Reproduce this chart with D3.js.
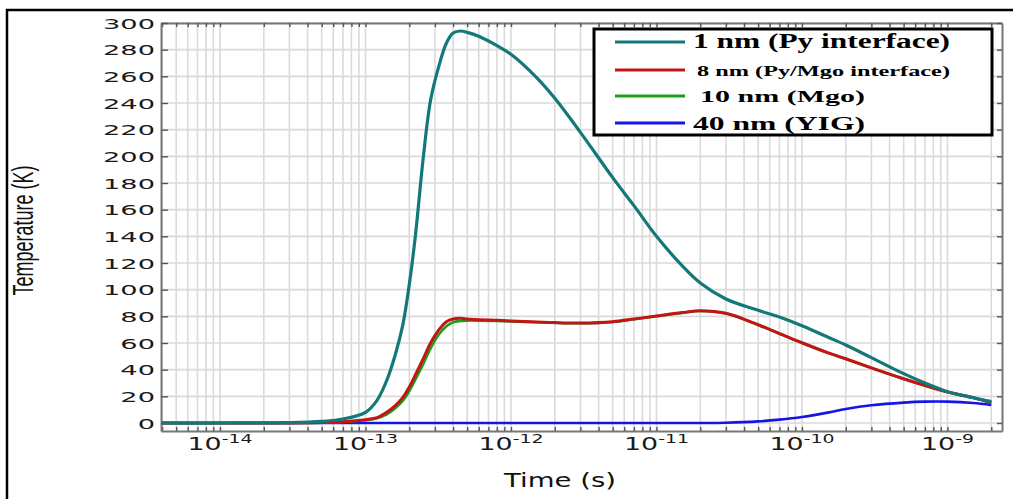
<!DOCTYPE html>
<html>
<head>
<meta charset="utf-8">
<script src="https://cdn.jsdelivr.net/npm/d3@7"></script>
<style>
  body { margin: 0; background: #fff; }
</style>
</head>
<body>
<svg id="chart"></svg>
<script>
// sample times (s), shared by every series
const times = [4e-15, 1e-14, 3e-14, 5e-14, 7e-14, 1e-13, 1.2e-13, 1.4e-13, 1.6e-13, 1.8e-13,
    2e-13, 2.2e-13, 2.5e-13, 2.8e-13, 3.2e-13, 3.6e-13, 4e-13, 4.5e-13, 5e-13, 6e-13,
    8e-13, 1e-12, 1.5e-12, 2e-12, 3e-12, 5e-12, 7e-12, 1e-11, 1.5e-11, 2e-11,
    3e-11, 5e-11, 7e-11, 1e-10, 1.5e-10, 2e-10, 3e-10, 5e-10, 7e-10, 1e-9,
    1.5e-9, 2e-9];

// temperature (K)
const py1nm = [0, 0, 0.3, 1.2, 3, 8, 17, 32, 51, 73,
    104, 140, 200, 242, 268, 285, 292.5, 294, 293, 290,
    283, 276.5, 259, 243.5, 218, 184, 163, 140, 118, 105,
    93, 84.5, 79.5, 73, 64.5, 58.5, 49, 37, 30, 23.5,
    19, 16];
const pyMgo8nm = [0, 0, 0, 0.3, 1, 2.5, 4, 8, 13, 19,
    27, 36, 48.5, 60, 70, 76, 78, 78.5, 78, 77.5,
    77, 76.5, 75.8, 75.3, 75, 76, 78, 80.3, 82.8, 84.2,
    82.3, 73.7, 67.1, 60.2, 52.8, 48.2, 41.4, 33.2, 28.2, 23.3,
    19, 15.2];
const mgo10nm = [0, 0, 0, 0.2, 0.8, 2, 3.5, 6.5, 11, 16.5,
    24, 32.5, 44.5, 56, 66.5, 72.5, 75.5, 76.5, 76.8, 76.8,
    76.6, 76.2, 75.6, 75.1, 74.8, 75.8, 77.8, 80.1, 82.6, 84,
    82.1, 73.5, 66.9, 60, 52.6, 48, 41.2, 33, 28, 23.2,
    18.9, 15.1];
const yig40nm = [0, 0, 0, 0, 0, 0, 0, 0, 0, 0,
    0, 0, 0, 0, 0, 0, 0, 0, 0, 0,
    0, 0, 0, 0, 0, 0, 0, 0, 0, 0,
    0.2, 1.2, 2.5, 4.5, 7.8, 10.5, 13.3, 15.3, 16, 16,
    15, 13.5];

const seriesNames = ['1 nm (Py interface)', '8 nm (Py/Mgo interface)', '10 nm (Mgo)', '40 nm (YIG)'];
const seriesColors = ['#137878', '#c41414', '#1a9e1a', '#1515e6'];
const seriesValues = [py1nm, pyMgo8nm, mgo10nm, yig40nm];

const yTicks = [0, 20, 40, 60, 80, 100, 120, 140, 160, 180, 200, 220, 240, 260, 280, 300];
const xExponents = [-14, -13, -12, -11, -10, -9];

const svgWidth = 1013;
const svgHeight = 499;
const plot = { left: 161, right: 1002, top: 23, bottom: 431 };

const svg = d3.select('#chart')
    .attr('width', svgWidth)
    .attr('height', svgHeight);

// outer black frame (runs off the right and bottom of the picture)
svg.append('rect')
    .attr('x', 7).attr('y', 10)
    .attr('width', 1100).attr('height', 700)
    .attr('fill', 'none')
    .attr('stroke', '#000')
    .attr('stroke-width', 2.5);

const x = d3.scaleLog()
    .domain([3.93e-15, 2.37e-9])
    .range([plot.left, plot.right]);

const y = d3.scaleLinear()
    .domain([-6, 300])
    .range([plot.bottom, plot.top]);

// every 1..9 x 10^e inside the domain
const xTicks = [];
for (let e = -15; e <= -9; e++) {
    for (let k = 1; k < 10; k++) {
        const v = +(k + 'e' + e);
        if (v >= x.domain()[0] && v <= x.domain()[1]) xTicks.push(v);
    }
}

// grid
const grid = svg.append('g').attr('stroke', '#dadada').attr('stroke-width', 1.6);
grid.selectAll('.vgrid')
    .data(xTicks)
    .join('line')
    .attr('class', 'vgrid')
    .attr('x1', d => x(d)).attr('x2', d => x(d))
    .attr('y1', plot.top).attr('y2', plot.bottom);
grid.selectAll('.hgrid')
    .data(yTicks)
    .join('line')
    .attr('class', 'hgrid')
    .attr('x1', plot.left).attr('x2', plot.right)
    .attr('y1', d => y(d)).attr('y2', d => y(d));

// axes with inward ticks on all four sides
function styleAxis(g) {
    g.select('.domain').attr('stroke', '#777').attr('stroke-width', 2);
    g.selectAll('.tick line').attr('stroke', '#555').attr('stroke-width', 1.4);
}

svg.append('g')
    .attr('transform', `translate(0, ${plot.bottom})`)
    .call(d3.axisBottom(x).tickValues(xTicks).tickSize(-4).tickSizeOuter(0).tickFormat(''))
    .call(styleAxis);

svg.append('g')
    .attr('transform', `translate(0, ${plot.top})`)
    .call(d3.axisTop(x).tickValues(xTicks).tickSize(-4).tickSizeOuter(0).tickFormat(''))
    .call(styleAxis);

svg.append('g')
    .attr('transform', `translate(${plot.right}, 0)`)
    .call(d3.axisRight(y).tickValues(yTicks).tickSize(-5).tickSizeOuter(0).tickFormat(''))
    .call(styleAxis);

const yAxis = svg.append('g')
    .attr('transform', `translate(${plot.left}, 0)`)
    .call(d3.axisLeft(y).tickValues(yTicks).tickSize(-7).tickSizeOuter(0).tickFormat(d3.format('d')))
    .call(styleAxis);

yAxis.selectAll('.tick text')
    .attr('x', null)
    .attr('dy', null)
    .attr('transform', 'translate(-6, 5) scale(1.88, 1)')
    .attr('text-anchor', 'end')
    .style('font-family', 'DejaVu Sans')
    .style('font-size', '14.5px')
    .attr('fill', '#1a1a1a');

// decade labels 10^e
const xLabels = svg.append('g')
    .selectAll('text')
    .data(xExponents)
    .join('text')
    .attr('transform', d => `translate(${x(Math.pow(10, d))}, 450) scale(1.6, 1)`)
    .attr('text-anchor', 'middle')
    .style('font-family', 'DejaVu Sans')
    .attr('fill', '#1a1a1a');
xLabels.append('tspan')
    .style('font-size', '16.8px')
    .text('10');
xLabels.append('tspan')
    .attr('dy', -7)
    .style('font-size', '11.8px')
    .text(d => '-' + Math.abs(d));

// axis titles
svg.append('text')
    .attr('transform', 'translate(560, 487) scale(1.45, 1)')
    .attr('text-anchor', 'middle')
    .style('font-family', 'DejaVu Sans')
    .style('font-size', '19px')
    .attr('fill', '#111')
    .text('Time (s)');

svg.append('text')
    .attr('transform', 'translate(33, 230.5) scale(1.6, 1) rotate(-90)')
    .attr('text-anchor', 'middle')
    .style('font-family', 'Liberation Sans')
    .style('font-size', '18px')
    .attr('fill', '#111')
    .text('Temperature (K)');

// curves
svg.append('clipPath').attr('id', 'plotClip')
    .append('rect')
    .attr('x', plot.left).attr('y', plot.top)
    .attr('width', plot.right - plot.left).attr('height', plot.bottom - plot.top);

const line = d3.line()
    .x((d, i) => x(times[i]))
    .y(d => y(d))
    .curve(d3.curveCatmullRom.alpha(0.5));

const drawOrder = [3, 2, 1, 0];
const widths = [3.2, 3, 2.6, 2.6];
svg.append('g')
    .attr('clip-path', 'url(#plotClip)')
    .selectAll('path')
    .data(drawOrder)
    .join('path')
    .attr('d', i => line(seriesValues[i]))
    .attr('fill', 'none')
    .attr('stroke', i => seriesColors[i])
    .attr('stroke-width', i => widths[i])
    .attr('stroke-linejoin', 'round');

// legend
const legend = svg.append('g');
legend.append('rect')
    .attr('x', 594).attr('y', 29)
    .attr('width', 398).attr('height', 106)
    .attr('fill', '#fff')
    .attr('stroke', '#000')
    .attr('stroke-width', 3);

const legendRows = [
    { y: 42, textX: 693, base: 48, size: 20, len: 257 },
    { y: 70, textX: 697, base: 75.5, size: 15, len: 253 },
    { y: 96, textX: 700, base: 102, size: 17.6, len: 165 },
    { y: 123, textX: 693, base: 130, size: 18, len: 172 }
];

legendRows.forEach((r, i) => {
    legend.append('line')
        .attr('x1', 615).attr('x2', 685)
        .attr('y1', r.y).attr('y2', r.y)
        .attr('stroke', seriesColors[i])
        .attr('stroke-width', 3);
    legend.append('text')
        .attr('x', r.textX).attr('y', r.base)
        .attr('textLength', r.len)
        .attr('lengthAdjust', 'spacingAndGlyphs')
        .style('font-family', 'Liberation Serif')
        .style('font-weight', 'bold')
        .style('font-size', r.size + 'px')
        .attr('fill', '#000')
        .text(seriesNames[i]);
});
</script>
</body>
</html>
